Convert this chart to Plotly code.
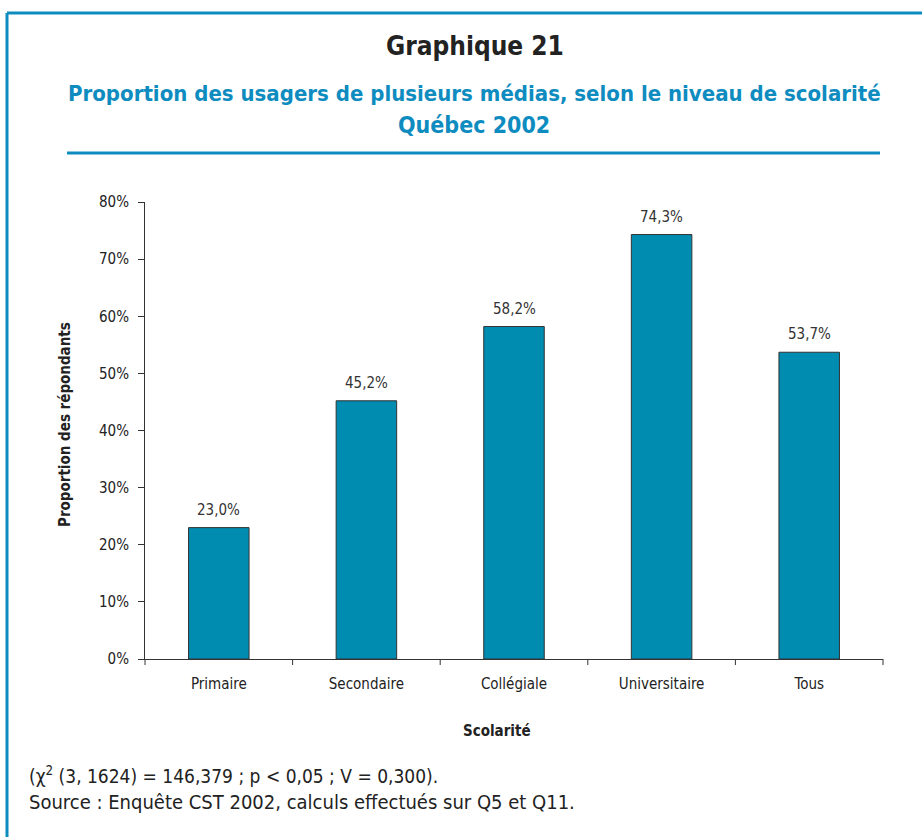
import plotly.graph_objects as go

categories = ["Primaire", "Secondaire", "Collégiale", "Universitaire", "Tous"]
values = [23.0, 45.2, 58.2, 74.3, 53.7]
y_tick_values = [0, 10, 20, 30, 40, 50, 60, 70, 80]
y_tick_labels = ["0%", "10%", "20%", "30%", "40%", "50%", "60%", "70%", "80%"]

W, H = 922, 837
L, R, T, B = 145, 883, 202, 659
FONT = "Liberation Sans Narrow, Arial Narrow, DejaVu Sans Condensed, sans-serif"
BLUE = "#0E8CC0"
BAR = "#008BB0"


def px(x):
    return (x - L) / (R - L)


def py(y):
    return (B - y) / (B - T)


labels = [f"{v:.1f}%".replace(".", ",") for v in values]

fig = go.Figure(
    go.Bar(
        x=categories,
        y=values,
        width=0.41,
        marker=dict(color=BAR, line=dict(color="#333333", width=1)),
        cliponaxis=False,
        hoverinfo="skip",
    )
)

fig.update_layout(
    width=W,
    height=H,
    margin=dict(l=L, r=W - R, t=T, b=H - B),
    paper_bgcolor="white",
    plot_bgcolor="white",
    showlegend=False,
    font=dict(family=FONT, color="#222222"),
)

fig.update_xaxes(
    showline=True,
    linecolor="#333333",
    linewidth=1,
    ticks="outside",
    ticklen=11,
    tickcolor="rgba(0,0,0,0)",
    tickfont=dict(family=FONT, size=15, color="#222222"),
    showgrid=False,
    title=None,
)
fig.update_yaxes(
    range=[0, 80],
    tickvals=y_tick_values,
    ticktext=y_tick_labels,
    showline=True,
    linecolor="#333333",
    linewidth=1,
    ticks="outside",
    ticklen=6,
    tickcolor="#333333",
    ticklabelstandoff=6,
    tickfont=dict(family=FONT, size=15, color="#222222"),
    showgrid=False,
    zeroline=False,
)

shapes = []
for i in range(len(categories) + 1):
    xp = i / len(categories)
    shapes.append(dict(type="line", xref="paper", yref="paper",
                       x0=xp, x1=xp, y0=0, y1=py(B + 6),
                       line=dict(color="#333333", width=1)))
shapes.append(dict(type="line", xref="paper", yref="paper",
                   x0=px(7), x1=px(930), y0=py(13), y1=py(13),
                   line=dict(color=BLUE, width=3)))
shapes.append(dict(type="line", xref="paper", yref="paper",
                   x0=px(7), x1=px(7), y0=py(13), y1=py(845),
                   line=dict(color=BLUE, width=3)))
shapes.append(dict(type="line", xref="paper", yref="paper",
                   x0=px(67), x1=px(880), y0=py(153), y1=py(153),
                   line=dict(color=BLUE, width=3)))
fig.update_layout(shapes=shapes)

annotations = [
    dict(x=c, y=v, text=t, xref="x", yref="y", showarrow=False,
         yanchor="bottom", yshift=7,
         font=dict(family=FONT, size=15, color="#333333"))
    for c, v, t in zip(categories, values, labels)
]
annotations += [
    dict(text="<b>Graphique 21</b>", x=px(475), y=py(46), xref="paper", yref="paper",
         showarrow=False, font=dict(family=FONT, size=26, color="#222222"),
         xanchor="center", yanchor="middle"),
    dict(text="<b>Proportion des usagers de plusieurs médias, selon le niveau de scolarité</b>",
         x=px(474), y=py(93), xref="paper", yref="paper", showarrow=False,
         font=dict(family=FONT, size=22, color=BLUE), xanchor="center", yanchor="middle"),
    dict(text="<b>Québec 2002</b>", x=px(474), y=py(125), xref="paper", yref="paper",
         showarrow=False, font=dict(family=FONT, size=23, color=BLUE),
         xanchor="center", yanchor="middle"),
    dict(text="<b>Proportion des répondants</b>", x=px(65), y=py(425), xref="paper",
         yref="paper", showarrow=False, textangle=-90,
         font=dict(family=FONT, size=15, color="#222222"), xanchor="center", yanchor="middle"),
    dict(text="<b>Scolarité</b>", x=px(497), y=py(731), xref="paper", yref="paper",
         showarrow=False, font=dict(family=FONT, size=15, color="#222222"),
         xanchor="center", yanchor="middle"),
    dict(text="(χ<sup>2</sup> (3, 1624) = 146,379 ; p &lt; 0,05 ; V = 0,300).",
         x=px(27), y=py(775), xref="paper", yref="paper", showarrow=False,
         font=dict(family=FONT, size=19, color="#222222"), xanchor="left", yanchor="middle"),
    dict(text="Source : Enquête CST 2002, calculs effectués sur Q5 et Q11.",
         x=px(27), y=py(802), xref="paper", yref="paper", showarrow=False,
         font=dict(family=FONT, size=20, color="#222222"), xanchor="left", yanchor="middle"),
]
fig.update_layout(annotations=annotations)

fig.write_html(
    "out.html",
    config={"displayModeBar": False},
    post_script="document.body.style.margin='0';document.body.style.overflow='hidden';",
)
